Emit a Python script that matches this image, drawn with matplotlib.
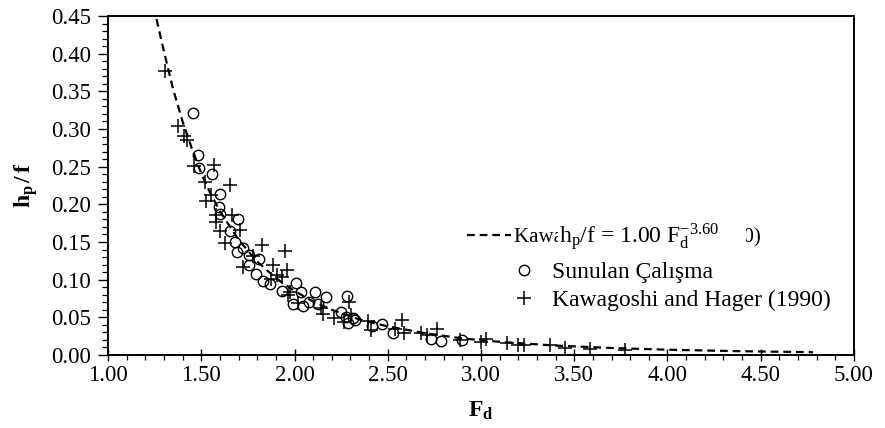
import matplotlib
matplotlib.use("Agg")
import matplotlib.pyplot as plt
from matplotlib.ticker import MultipleLocator, FormatStrFormatter

plt.rcParams['font.family'] = ['Liberation Serif', 'DejaVu Serif']
plt.rcParams['mathtext.fontset'] = 'custom'
plt.rcParams['mathtext.rm'] = 'Liberation Serif'
plt.rcParams['mathtext.it'] = 'Liberation Serif:italic'
plt.rcParams['mathtext.bf'] = 'Liberation Serif:bold'

# Fitted curve
curve_fd = [1.26, 1.30, 1.35, 1.40, 1.45, 1.50, 1.55, 1.60, 1.70, 1.80, 1.90, 2.00,
            2.10, 2.20, 2.35, 2.50, 2.70, 2.90, 3.10, 3.40, 3.70, 4.00, 4.40, 4.78]
curve_hf = [0.446, 0.403, 0.352, 0.310, 0.274, 0.241, 0.214, 0.191, 0.153, 0.124, 0.102, 0.085,
            0.071, 0.060, 0.047, 0.038, 0.029, 0.022, 0.0175, 0.0125, 0.0093, 0.0070, 0.0050, 0.0037]

# Sunulan Calisma (circles)
sun_fd = [1.457, 1.482, 1.490, 1.555, 1.598, 1.593, 1.598, 1.695, 1.652, 1.679, 1.726, 1.692,
          1.756, 1.810, 1.758, 1.794, 1.829, 1.869, 2.006, 1.932, 2.036, 2.108, 2.171, 2.281,
          1.993, 2.047, 2.076, 2.128, 2.250, 2.276, 2.312, 2.286, 2.322, 2.414, 2.468, 2.530,
          2.730, 2.784, 2.900]
sun_hf = [0.321, 0.266, 0.248, 0.240, 0.214, 0.196, 0.187, 0.180, 0.165, 0.150, 0.142, 0.137,
          0.133, 0.127, 0.119, 0.107, 0.098, 0.094, 0.095, 0.085, 0.084, 0.083, 0.077, 0.078,
          0.068, 0.065, 0.071, 0.068, 0.057, 0.050, 0.049, 0.043, 0.046, 0.038, 0.041, 0.029,
          0.0215, 0.019, 0.0195]

# Kawagoshi and Hager (1990) (plus markers)
kh_fd = [1.308, 1.377, 1.410, 1.421, 1.460, 1.569, 1.520, 1.652, 1.553, 1.526, 1.580, 1.665,
         1.579, 1.602, 1.708, 1.629, 1.825, 1.949, 1.775, 1.726, 1.887, 1.958, 1.904, 1.935,
         1.873, 1.966, 2.018, 1.975, 2.144, 2.152, 2.214, 2.292, 2.304, 2.268, 2.392, 2.410,
         2.578, 2.540, 2.587, 2.677, 2.712, 2.766, 2.888, 3.000, 3.025, 3.140, 3.200, 3.230,
         3.370, 3.450, 3.585, 3.770]
kh_hf = [0.377, 0.304, 0.291, 0.285, 0.251, 0.252, 0.230, 0.226, 0.212, 0.205, 0.186, 0.186,
         0.176, 0.165, 0.166, 0.149, 0.146, 0.138, 0.131, 0.117, 0.120, 0.113, 0.106, 0.103,
         0.101, 0.079, 0.069, 0.084, 0.062, 0.055, 0.049, 0.071, 0.053, 0.044, 0.045, 0.033,
         0.046, 0.034, 0.029, 0.029, 0.0265, 0.035, 0.020, 0.0177, 0.0206, 0.0155, 0.0133, 0.0133,
         0.0133, 0.0089, 0.0076, 0.0066]

x_ticks = [1.00, 1.50, 2.00, 2.50, 3.00, 3.50, 4.00, 4.50, 5.00]
y_ticks = [0.00, 0.05, 0.10, 0.15, 0.20, 0.25, 0.30, 0.35, 0.40, 0.45]

fig = plt.figure(figsize=(8.85, 4.28), dpi=100)
ax = fig.add_axes([108/885, 1-355/428, (854-108)/885, (355-16)/428])

line, = ax.plot(curve_fd, curve_hf, color='black', lw=1.6, linestyle=(0, (3.5, 2.2)), zorder=2)
circ, = ax.plot(sun_fd, sun_hf, linestyle='none', marker='o', markersize=7.5,
                markerfacecolor='none', markeredgecolor='black', markeredgewidth=1.0, zorder=3)
plus, = ax.plot(kh_fd, kh_hf, linestyle='none', marker='+', markersize=9.5,
                color='black', markeredgewidth=1.1, zorder=3)

ax.set_xlim(1.0, 5.0)
ax.set_ylim(0.0, 0.45)
ax.set_xticks(x_ticks)
ax.set_yticks(y_ticks)
ax.xaxis.set_minor_locator(MultipleLocator(0.1))
ax.yaxis.set_minor_locator(MultipleLocator(0.01))
ax.xaxis.set_major_formatter(FormatStrFormatter('%.2f'))
ax.yaxis.set_major_formatter(FormatStrFormatter('%.2f'))

for s in ax.spines.values():
    s.set_linewidth(1.4)
    s.set_color('black')

ax.tick_params(axis='x', which='major', direction='inout', length=8, width=1.0, labelsize=16.5, pad=3)
ax.tick_params(axis='x', which='minor', direction='out', length=3.5, width=0.9)
ax.tick_params(axis='y', which='major', direction='out', length=7, width=1.0, labelsize=16.5, pad=5)
ax.tick_params(axis='y', which='minor', direction='out', length=4, width=0.9)

ax.set_xlabel(r'$\mathbf{F_d}$', fontsize=17, labelpad=10)
ax.set_ylabel(r'$\mathbf{h_p}$$\mathbf{\,/\,f}$', fontsize=17, labelpad=8)

leg1 = ax.legend([line], ['Kawagoshi and Hager (1990)'], loc='center left',
                 bbox_to_anchor=((467-108)/746, (355-237)/339), frameon=False,
                 borderpad=0, borderaxespad=0, handlelength=2.1, handletextpad=0.15,
                 fontsize=15)
ax.add_artist(leg1)
ax.legend([circ, plus], ['Sunulan Çalışma', 'Kawagoshi and Hager (1990)'], loc='center left',
          bbox_to_anchor=((512-108)/746, (355-286.5)/339), frameon=False,
          borderpad=0, borderaxespad=0, handlelength=1.0, handletextpad=0.69,
          labelspacing=0.28, fontsize=17)

ax.text((559-108)/746, (355-237)/339, r'h$_{\rm p}$/f = 1.00 F$_{\rm d}^{-3.60}$     ',
        transform=ax.transAxes, fontsize=17, va='center', ha='left',
        bbox=dict(facecolor='white', edgecolor='none', pad=1.0), zorder=10)

fig.savefig('out.png', dpi=100)
